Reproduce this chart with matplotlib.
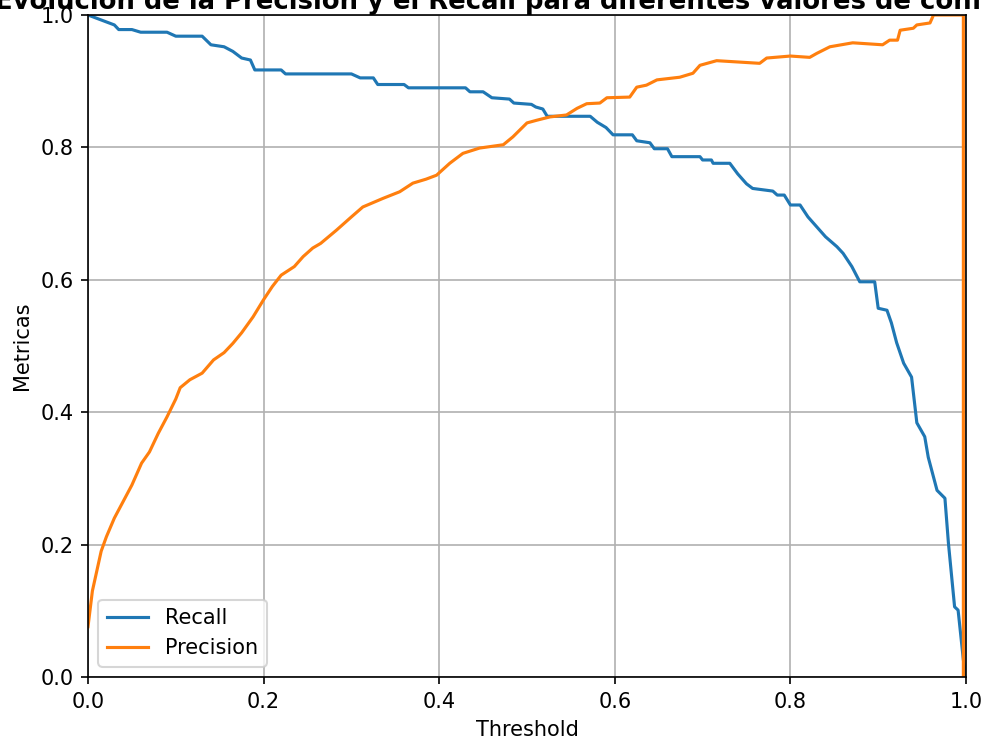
import numpy as np
from matplotlib import pyplot as plt

# ------------------------------------------------------------------------------------------------------------------
#  values (threshold vs metric)
# ------------------------------------------------------------------------------------------------------------------
recall_thr = [0.0, 0.01, 0.02, 0.03, 0.035, 0.05, 0.06, 0.09, 0.10, 0.13, 0.14, 0.155, 0.165, 0.175, 0.185,
              0.19, 0.22, 0.225, 0.30, 0.31, 0.325, 0.33, 0.36, 0.365, 0.43, 0.435, 0.45, 0.46, 0.48, 0.485,
              0.505, 0.51, 0.518, 0.523, 0.572, 0.58, 0.59, 0.598, 0.62, 0.625, 0.64, 0.645, 0.66, 0.665,
              0.697, 0.70, 0.71, 0.712, 0.731, 0.74, 0.75, 0.757, 0.78, 0.785, 0.793, 0.80, 0.811, 0.82,
              0.83, 0.84, 0.853, 0.86, 0.87, 0.879, 0.896, 0.90, 0.91, 0.915, 0.921, 0.929, 0.938, 0.944,
              0.953, 0.957, 0.967, 0.976, 0.98, 0.984, 0.987, 0.991, 0.997, 1.0]
recall_val = [1.0, 0.995, 0.99, 0.985, 0.978, 0.978, 0.974, 0.974, 0.968, 0.968, 0.955, 0.952, 0.945, 0.935,
              0.932, 0.917, 0.917, 0.911, 0.911, 0.905, 0.905, 0.895, 0.895, 0.89, 0.89, 0.884, 0.884, 0.875,
              0.873, 0.867, 0.865, 0.861, 0.858, 0.847, 0.847, 0.838, 0.83, 0.819, 0.819, 0.81, 0.807, 0.798,
              0.798, 0.786, 0.786, 0.781, 0.781, 0.776, 0.776, 0.76, 0.745, 0.738, 0.734, 0.728, 0.728, 0.713,
              0.713, 0.695, 0.68, 0.665, 0.65, 0.64, 0.62, 0.597, 0.597, 0.557, 0.554, 0.535, 0.505, 0.474,
              0.453, 0.384, 0.363, 0.332, 0.282, 0.27, 0.202, 0.147, 0.106, 0.101, 0.026, 0.0]

precision_thr = [0.0, 0.005, 0.01, 0.015, 0.021, 0.03, 0.04, 0.05, 0.061, 0.07, 0.08, 0.09, 0.1, 0.105, 0.116,
                 0.13, 0.143, 0.155, 0.165, 0.175, 0.188, 0.2, 0.21, 0.22, 0.235, 0.245, 0.256, 0.265, 0.283,
                 0.3, 0.313, 0.336, 0.355, 0.37, 0.385, 0.397, 0.412, 0.427, 0.446, 0.473, 0.484, 0.5, 0.511,
                 0.526, 0.545, 0.557, 0.568, 0.583, 0.591, 0.617, 0.625, 0.636, 0.648, 0.674, 0.689, 0.697,
                 0.716, 0.765, 0.773, 0.8, 0.822, 0.83, 0.845, 0.871, 0.905, 0.913, 0.922, 0.925, 0.94, 0.944,
                 0.959, 0.963, 0.997, 0.997]
precision_val = [0.076, 0.13, 0.16, 0.19, 0.212, 0.24, 0.265, 0.29, 0.323, 0.34, 0.368, 0.393, 0.42, 0.437,
                 0.449, 0.459, 0.479, 0.49, 0.504, 0.52, 0.544, 0.57, 0.59, 0.607, 0.62, 0.635, 0.648, 0.655,
                 0.675, 0.695, 0.71, 0.723, 0.733, 0.746, 0.752, 0.758, 0.776, 0.791, 0.799, 0.804, 0.816,
                 0.837, 0.841, 0.846, 0.849, 0.859, 0.866, 0.867, 0.875, 0.876, 0.891, 0.894, 0.902, 0.906,
                 0.912, 0.924, 0.931, 0.927, 0.935, 0.938, 0.936, 0.942, 0.952, 0.958, 0.955, 0.962, 0.962,
                 0.977, 0.98, 0.985, 0.988, 1.0, 1.0, 0.0]

title = "Evolución de la Precisión y el Recall para diferentes valores de confianza"

if __name__ == "__main__":
    dpi = 150
    fig = plt.figure(figsize=(984 / dpi, 742 / dpi), dpi=dpi)
    ax = fig.add_axes([88 / 984, 65 / 742, 878 / 984, 662 / 742])

    ax.plot(recall_thr, recall_val, label="Recall")
    ax.plot(precision_thr, precision_val, label="Precision")

    ax.set_xlim(0, 1)
    ax.set_ylim(0, 1)
    ax.set_xlabel("Threshold")
    ax.set_ylabel("Metricas")
    # the reference crops the title on both sides, keep the same placement
    ax.set_title(title, fontsize=12.4, fontweight="bold", pad=1.5)
    ax.grid(True)
    ax.legend(loc="lower left")

    fig.savefig("out.png", dpi=dpi)
